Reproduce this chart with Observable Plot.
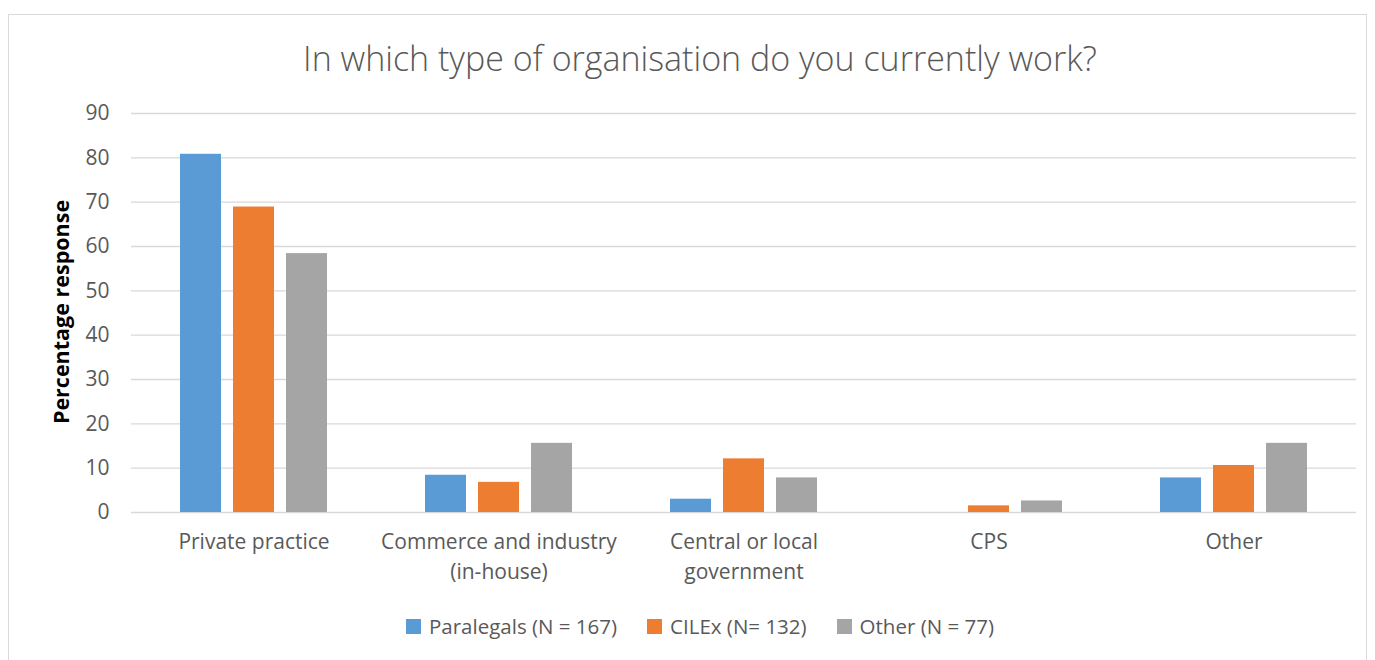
<!DOCTYPE html>
<html><head><meta charset="utf-8">
<script src="https://cdn.jsdelivr.net/npm/d3@7"></script>
<script src="https://cdn.jsdelivr.net/npm/@observablehq/plot@0.6"></script>
<style>
body{margin:0;background:#fff;font-family:"Open Sans",Lato,sans-serif;}
#wrap{position:relative;width:1375px;height:660px;overflow:hidden;}
#frame{position:absolute;left:8px;top:14px;width:1359px;height:660px;border:1px solid #d9d9d9;box-sizing:border-box;}
#title{position:absolute;left:0;width:1400px;top:35px;text-align:center;font-size:34px;color:#595959;font-weight:300;white-space:nowrap;}
#chart{position:absolute;left:0;top:90px;}
#ylabel{position:absolute;left:60px;top:312px;transform:translate(-50%,-50%) rotate(-90deg);font-size:21.5px;font-weight:bold;color:#000;white-space:nowrap;}
#legend{position:absolute;left:0;width:1375px;top:611px;height:30px;display:flex;justify-content:center;align-items:center;font-size:20.5px;color:#595959;padding-left:25px;box-sizing:border-box;}
.item{display:flex;align-items:center;margin:0 15px;}
.sw{width:15px;height:15px;margin-right:8px;}
</style></head>
<body><div id="wrap"><div id="frame"></div><div id="title"></div><div id="chart"></div><div id="ylabel"></div><div id="legend"></div></div>
<script>
const titleText = "In which type of organisation do you currently work?";
const yLabel = "Percentage response";
const categories = ["Private practice", "Commerce and industry\n(in-house)", "Central or local\ngovernment", "CPS", "Other"];
const series = ["Paralegals (N = 167)", "CILEx (N= 132)", "Other (N = 77)"];
const paralegals = [80.8, 8.4, 3.0, 0, 7.8];
const cilex = [68.9, 6.8, 12.1, 1.5, 10.6];
const otherGroup = [58.4, 15.6, 7.8, 2.6, 15.6];
const yTicks = [0, 10, 20, 30, 40, 50, 60, 70, 80, 90];
const colors = ["#5b9bd5", "#ed7d31", "#a5a5a5"];

const seriesValues = [paralegals, cilex, otherGroup];
const table = [];
series.forEach((s, i) => categories.forEach((c, j) => table.push({category: c, series: s, value: seriesValues[i][j]})));

document.getElementById("title").textContent = titleText;
document.getElementById("ylabel").textContent = yLabel;

const chart = Plot.plot({
  width: 1375, height: 510,
  marginLeft: 129, marginRight: 17, marginTop: 23, marginBottom: 88,
  style: {fontFamily: "'Open Sans', Lato, sans-serif", fontSize: "21px", color: "#595959", background: "transparent"},
  fx: {domain: categories, padding: 0, axis: null, label: null},
  x: {domain: series, paddingInner: 0.22, paddingOuter: 0.88, axis: null},
  y: {domain: [0, 90], ticks: yTicks, tickSize: 0, tickPadding: 22, label: null},
  color: {domain: series, range: colors},
  marks: [
    Plot.ruleY(yTicks, {stroke: "#d9d9d9", strokeWidth: 1.3}),
    Plot.barY(table, {fx: "category", x: "series", y: "value", fill: "series"}),
    Plot.text(categories, {fx: d => d, text: d => d, frameAnchor: "bottom", lineAnchor: "top", dy: 15, lineHeight: 1.43, fill: "#595959", fontSize: 21})
  ]
});
document.getElementById("chart").appendChild(chart);

const legend = document.getElementById("legend");
series.forEach((s, i) => {
  const it = document.createElement("div"); it.className = "item";
  const sw = document.createElement("div"); sw.className = "sw"; sw.style.background = colors[i];
  const t = document.createElement("span"); t.textContent = s;
  it.appendChild(sw); it.appendChild(t); legend.appendChild(it);
});
</script></body></html>
